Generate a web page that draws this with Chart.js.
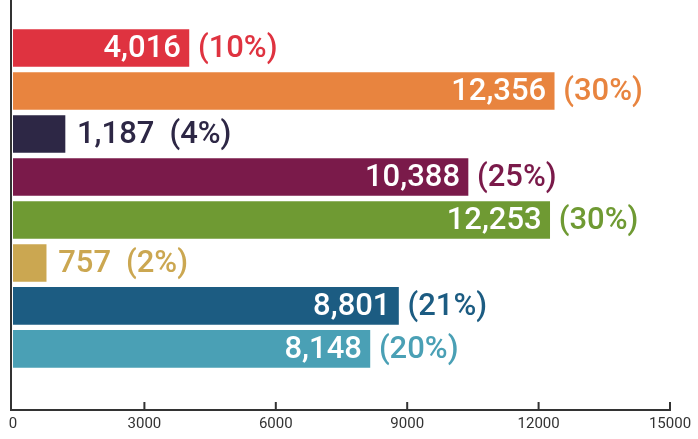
<!DOCTYPE html>
<html>
<head>
<meta charset="utf-8">
<script src="https://cdn.jsdelivr.net/npm/chart.js@4/dist/chart.umd.min.js"></script>
<style>
  html, body { margin: 0; padding: 0; background: #fff; }
  #wrap { width: 698px; height: 439px; }
</style>
</head>
<body>
<div id="wrap"><canvas id="chart"></canvas></div>
<script>
// chart data, top to bottom
const values = [4016, 12356, 1187, 10388, 12253, 757, 8801, 8148];
const shares = ['10%', '30%', '4%', '25%', '30%', '2%', '21%', '20%'];
const colors = ['#df3340', '#e8843f', '#2d2745', '#7a1a4a', '#6f9a33', '#cba751', '#1c5c82', '#4aa0b5'];
const xTicks = [0, 3000, 6000, 9000, 12000, 15000];

const labelFont = '500 31px Roboto, "Liberation Sans", sans-serif';

// value + share labels next to each bar
const barLabels = {
  id: 'barLabels',
  afterDatasetsDraw(chart) {
    const ctx = chart.ctx;
    const meta = chart.getDatasetMeta(0);
    ctx.save();
    ctx.font = labelFont;
    ctx.textBaseline = 'middle';
    meta.data.forEach((bar, i) => {
      const txt = values[i].toLocaleString('en-US');
      const pct = '(' + shares[i] + ')';
      const y = bar.y + 1;
      if (values[i] > 3000) {
        ctx.fillStyle = '#fff';
        ctx.textAlign = 'right';
        ctx.fillText(txt, bar.x - 8, y);
        ctx.fillStyle = colors[i];
        ctx.textAlign = 'left';
        ctx.fillText(pct, bar.x + 9, y);
      } else {
        ctx.fillStyle = colors[i];
        ctx.textAlign = 'left';
        ctx.fillText(txt, bar.x + 12, y);
        const w = ctx.measureText(txt).width;
        ctx.fillText(pct, bar.x + 12 + w + 15, y);
      }
    });
    ctx.restore();
  }
};

// axis lines with tick marks pointing up
const axisLines = {
  id: 'axisLines',
  afterDraw(chart) {
    const ctx = chart.ctx;
    const area = chart.chartArea;
    const xs = chart.scales.x;
    ctx.save();
    ctx.strokeStyle = '#333';
    ctx.lineWidth = 2;
    ctx.beginPath();
    ctx.moveTo(area.left - 2, 0);
    ctx.lineTo(area.left - 2, area.bottom);
    ctx.moveTo(area.left - 3, area.bottom);
    ctx.lineTo(area.right + 1, area.bottom);
    xTicks.forEach(t => {
      if (t === 0) return;
      const px = xs.getPixelForValue(t);
      ctx.moveTo(px, area.bottom);
      ctx.lineTo(px, area.bottom - 8);
    });
    ctx.stroke();
    ctx.restore();
  }
};

new Chart(document.getElementById('chart'), {
  type: 'bar',
  data: {
    datasets: [{
      data: values.map((v, i) => ({ x: v, y: i })),
      backgroundColor: colors,
      borderWidth: 0,
      barThickness: 37
    }]
  },
  options: {
    indexAxis: 'y',
    responsive: true,
    maintainAspectRatio: false,
    animation: false,
    layout: { padding: { left: 13, right: 28, top: 0, bottom: 0 } },
    scales: {
      x: {
        type: 'linear',
        min: 0,
        max: 15000,
        afterBuildTicks: s => { s.ticks = xTicks.map(v => ({ value: v })); },
        afterFit: s => { s.height = 29; },
        grid: { display: false, drawTicks: false },
        border: { display: false },
        ticks: {
          padding: 5,
          maxRotation: 0,
          color: '#333',
          font: { family: 'Roboto, "Liberation Sans", sans-serif', size: 15 },
          callback: v => String(v)
        }
      },
      y: {
        type: 'linear',
        reverse: true,
        offset: false,
        bounds: 'data',
        min: -1.116,
        max: 8.42,
        display: false
      }
    },
    plugins: {
      legend: { display: false },
      tooltip: { enabled: false }
    }
  },
  plugins: [barLabels, axisLines]
});
</script>
</body>
</html>
